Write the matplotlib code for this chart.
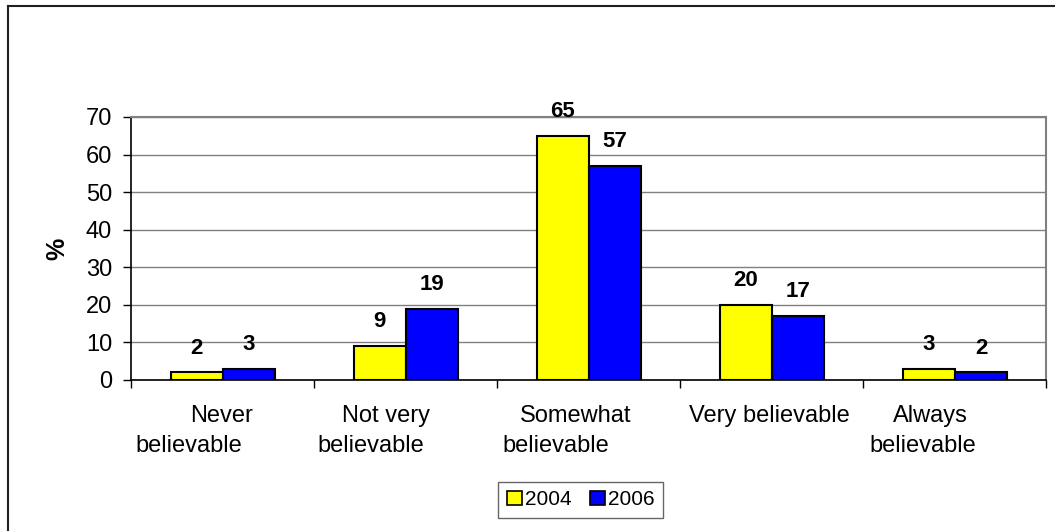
import matplotlib
matplotlib.use("Agg")
import matplotlib.pyplot as plt
import matplotlib.transforms as mtransforms
from matplotlib.lines import Line2D
import numpy as np

plt.rcParams['font.family'] = ['Liberation Sans', 'DejaVu Sans']

categories = ["Never\nbelievable", "Not very\nbelievable", "Somewhat\nbelievable",
              "Very believable", "Always\nbelievable"]
series_names = ["2004", "2006"]
values_2004 = [2, 9, 65, 20, 3]
values_2006 = [3, 19, 57, 17, 2]
colors = ["#FFFF00", "#0000FF"]
y_ticks = [0, 10, 20, 30, 40, 50, 60, 70]

# horizontal nudges (pixels) of each wrapped label line, as the chart tool laid them out
line_shift = [[-1, -34], [-20, -35], [-13, -33], [-3], [-25, -32]]
line_drop = [42, 72]

fig = plt.figure(figsize=(10.55, 5.31), dpi=100)
ax = fig.add_axes([0.1246, 0.2844, 0.8673, 0.4953])

x = np.arange(len(categories))
bw = 0.2857
for i, (vals, name, col) in enumerate(zip([values_2004, values_2006], series_names, colors)):
    pos = x + (i - 0.5) * bw
    bars = ax.bar(pos, vals, width=bw, color=col, edgecolor="black", linewidth=1.5,
                  label=name, zorder=3)
    for b, v in zip(bars, vals):
        ax.annotate(f"{v}", (b.get_x() + b.get_width() / 2, v), xytext=(0, 10),
                    textcoords="offset points", ha="center", va="bottom",
                    fontsize=16, fontweight="bold", zorder=4)

ax.set_xlim(-0.5, len(categories) - 0.5)
ax.set_ylim(0, 70)
ax.set_yticks(y_ticks)
ax.yaxis.grid(True, color="#808080", linewidth=1.0, zorder=0)
ax.set_axisbelow(True)

ax.set_xticks(np.arange(len(categories) + 1) - 0.5)
ax.set_xticklabels([])
ax.tick_params(axis="x", which="major", length=6, width=1, direction="out", color="black")
ax.tick_params(axis="y", length=6, width=1, labelsize=17, pad=8)

# category labels, one text per wrapped line
base = mtransforms.blended_transform_factory(ax.transData, ax.transAxes)
for cx, label, shifts in zip(x, categories, line_shift):
    for k, (line, dx) in enumerate(zip(label.split("\n"), shifts)):
        tr = mtransforms.offset_copy(base, fig=fig, x=dx, y=-line_drop[k], units="dots")
        ax.text(cx, 0, line, transform=tr, ha="center", va="baseline", fontsize=17,
                clip_on=False)

for s in ["left", "bottom"]:
    ax.spines[s].set_color("black")
    ax.spines[s].set_linewidth(1.2)
for s in ["top", "right"]:
    ax.spines[s].set_color("#808080")
    ax.spines[s].set_linewidth(1.5)

ax.set_ylabel("%", fontsize=18, fontweight="bold", labelpad=12)

handles = [plt.Rectangle((0, 0), 1, 1, facecolor=c, edgecolor="black", linewidth=1.2)
           for c in colors]
leg = fig.legend(handles, series_names, loc="center", bbox_to_anchor=(0.5505, 0.0584),
                 ncol=2, fontsize=15, frameon=True, fancybox=False, handlelength=0.7,
                 handleheight=0.7, handletextpad=0.15, columnspacing=0.9,
                 borderpad=0.42, borderaxespad=0, edgecolor="#404040")
leg.get_frame().set_linewidth(1.0)

# chart frame (left and top edges)
fig.add_artist(Line2D([7.5 / 1055, 7.5 / 1055], [0, 1 - 5.5 / 531], color="#202020",
                      linewidth=1.5, transform=fig.transFigure))
fig.add_artist(Line2D([7.5 / 1055, 1], [1 - 5.5 / 531, 1 - 5.5 / 531], color="#202020",
                      linewidth=1.5, transform=fig.transFigure))

fig.savefig("out.png", dpi=100, facecolor="white")
